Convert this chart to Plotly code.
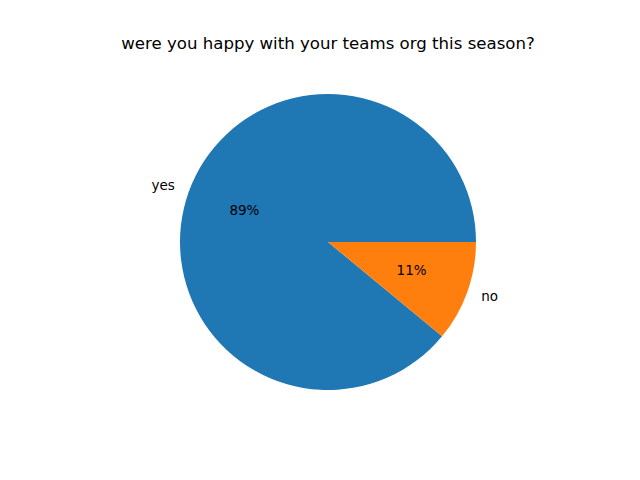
import plotly.graph_objects as go

answers = ["yes", "no"]
counts = [89, 11]
slice_colors = ["#1f77b4", "#ff7f0e"]
chart_title = "were you happy with your teams org this season?"

font_name = "DejaVu Sans"
# radial range goes past the wedges so the outer labels stay inside the axis;
# the page has an 8px body margin, so the domain is nudged to compensate
r_max = 1.2
pie_domain = dict(x=[0.2225, 0.7775], y=[0.1425, 0.8825])

total = sum(counts)
shares = [c / total for c in counts]

# wedges matplotlib style: start at 3 o'clock, go counterclockwise
mid_angles = []
widths = []
start = 0.0
for s in shares:
    widths.append(s * 360.0)
    mid_angles.append(start + s * 180.0)
    start += s * 360.0

fig = go.Figure()

fig.add_trace(go.Barpolar(
    r=[1.0] * len(answers),
    theta=mid_angles,
    width=widths,
    marker=dict(color=slice_colors, line=dict(width=0)),
    text=answers,
    hovertemplate="%{text}<extra></extra>",
    showlegend=False,
))

# wedge labels at 1.1 radius
side = ["middle left" if 90 < a < 270 else "middle right" for a in mid_angles]
fig.add_trace(go.Scatterpolar(
    r=[1.1] * len(answers),
    theta=mid_angles,
    mode="text",
    text=answers,
    textposition=side,
    textfont=dict(family=font_name, size=13.5, color="black"),
    cliponaxis=False,
    showlegend=False,
    hoverinfo="skip",
))

# percentages at 0.6 radius
fig.add_trace(go.Scatterpolar(
    r=[0.6] * len(answers),
    theta=mid_angles,
    mode="text",
    text=[f"{s * 100:.0f}%" for s in shares],
    textposition="middle center",
    textfont=dict(family=font_name, size=13.5, color="black"),
    cliponaxis=False,
    showlegend=False,
    hoverinfo="skip",
))

fig.update_layout(
    width=640,
    height=480,
    margin=dict(l=0, r=0, t=0, b=0),
    paper_bgcolor="white",
    plot_bgcolor="white",
    polar=dict(
        domain=pie_domain,
        bgcolor="rgba(0,0,0,0)",
        bargap=0,
        radialaxis=dict(range=[0, r_max], visible=False, showgrid=False),
        angularaxis=dict(rotation=0, direction="counterclockwise",
                         visible=False, showgrid=False),
    ),
    title=dict(
        text=chart_title,
        x=0.5, xanchor="center",
        y=1 - 35 / 480, yanchor="middle",
        font=dict(family=font_name, size=16.6, color="black"),
    ),
)

fig.write_html("out.html")
